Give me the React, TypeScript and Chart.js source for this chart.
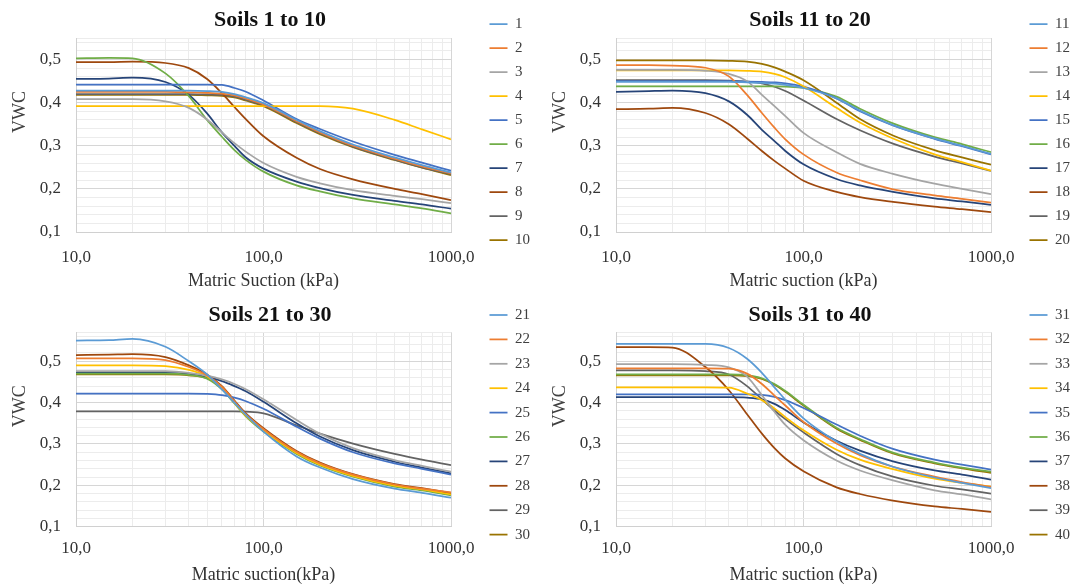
import React, { useEffect, useRef } from "react";
import { Chart, registerables } from "chart.js";

Chart.register(...registerables);

const SERIF = "'Liberation Serif', 'Times New Roman', serif";

// Matric suction (kPa) sample points shared by every curve
const suction = [10, 15, 20, 30, 40, 50, 60, 70, 80, 100, 150, 200, 300, 500, 700, 1000];

// Axis tick labels
const xLabelValues = [10, 100, 1000];
const xLabelTexts = ["10,0", "100,0", "1000,0"];
const yLabelValues = [0.1, 0.2, 0.3, 0.4, 0.5];
const yLabelTexts = ["0,1", "0,2", "0,3", "0,4", "0,5"];

// Excel-like series colours
const palette = ["#5B9BD5", "#ED7D31", "#A5A5A5", "#FFC000", "#4472C4", "#70AD47", "#264478", "#9E480E", "#636363", "#997300"];

// ---- Soils 1 to 10 (VWC) ----
const soil01 = [0.428, 0.428, 0.428, 0.428, 0.428, 0.427, 0.425, 0.42, 0.413, 0.399, 0.36, 0.334, 0.303, 0.273, 0.255, 0.238];
const soil02 = [0.425, 0.425, 0.425, 0.425, 0.424, 0.423, 0.421, 0.417, 0.41, 0.396, 0.357, 0.331, 0.3, 0.27, 0.252, 0.236];
const soil03 = [0.408, 0.408, 0.408, 0.403, 0.388, 0.361, 0.331, 0.306, 0.287, 0.26, 0.228, 0.213, 0.197, 0.184, 0.176, 0.167];
const soil04 = [0.392, 0.392, 0.392, 0.392, 0.392, 0.392, 0.392, 0.392, 0.392, 0.392, 0.392, 0.392, 0.386, 0.36, 0.338, 0.315];
const soil05 = [0.442, 0.442, 0.442, 0.442, 0.442, 0.442, 0.441, 0.434, 0.426, 0.405, 0.362, 0.339, 0.31, 0.279, 0.261, 0.242];
const soil06 = [0.503, 0.504, 0.503, 0.468, 0.415, 0.36, 0.321, 0.29, 0.268, 0.24, 0.208, 0.194, 0.178, 0.164, 0.155, 0.143];
const soil07 = [0.455, 0.456, 0.458, 0.448, 0.418, 0.375, 0.331, 0.3, 0.274, 0.247, 0.217, 0.202, 0.186, 0.172, 0.164, 0.154];
const soil08 = [0.494, 0.494, 0.495, 0.492, 0.48, 0.455, 0.422, 0.39, 0.363, 0.322, 0.272, 0.246, 0.222, 0.2, 0.188, 0.174];
const soil09 = [0.42, 0.42, 0.42, 0.42, 0.42, 0.419, 0.418, 0.414, 0.407, 0.394, 0.355, 0.329, 0.298, 0.268, 0.25, 0.234];
const soil10 = [0.418, 0.418, 0.418, 0.418, 0.418, 0.417, 0.416, 0.412, 0.405, 0.392, 0.353, 0.327, 0.297, 0.267, 0.249, 0.232];

// ---- Soils 11 to 20 ----
const soil11 = [0.448, 0.448, 0.448, 0.448, 0.448, 0.447, 0.446, 0.444, 0.441, 0.434, 0.41, 0.382, 0.348, 0.317, 0.3, 0.281];
const soil12 = [0.487, 0.487, 0.486, 0.481, 0.461, 0.418, 0.376, 0.342, 0.315, 0.28, 0.238, 0.22, 0.199, 0.185, 0.177, 0.168];
const soil13 = [0.476, 0.476, 0.476, 0.474, 0.467, 0.45, 0.418, 0.392, 0.369, 0.33, 0.285, 0.258, 0.235, 0.212, 0.2, 0.188];
const soil14 = [0.475, 0.475, 0.475, 0.475, 0.475, 0.474, 0.472, 0.467, 0.459, 0.438, 0.388, 0.354, 0.317, 0.28, 0.262, 0.242];
const soil15 = [0.45, 0.45, 0.45, 0.45, 0.45, 0.449, 0.448, 0.447, 0.445, 0.437, 0.41, 0.38, 0.347, 0.316, 0.299, 0.28];
const soil16 = [0.438, 0.438, 0.438, 0.438, 0.438, 0.438, 0.438, 0.438, 0.437, 0.434, 0.414, 0.386, 0.352, 0.32, 0.304, 0.285];
const soil17 = [0.425, 0.427, 0.428, 0.422, 0.403, 0.372, 0.337, 0.311, 0.288, 0.257, 0.223, 0.208, 0.193, 0.178, 0.171, 0.163];
const soil18 = [0.385, 0.386, 0.388, 0.376, 0.35, 0.317, 0.288, 0.265, 0.247, 0.219, 0.193, 0.181, 0.17, 0.159, 0.153, 0.146];
const soil19 = [0.452, 0.452, 0.452, 0.452, 0.451, 0.449, 0.445, 0.437, 0.427, 0.405, 0.362, 0.336, 0.305, 0.275, 0.259, 0.242];
const soil20 = [0.498, 0.498, 0.498, 0.498, 0.497, 0.495, 0.49, 0.482, 0.472, 0.452, 0.4, 0.362, 0.324, 0.29, 0.273, 0.256];

// ---- Soils 21 to 30 ----
const soil21 = [0.55, 0.551, 0.554, 0.535, 0.5, 0.468, 0.432, 0.4, 0.372, 0.33, 0.27, 0.243, 0.215, 0.192, 0.182, 0.17];
const soil22 = [0.507, 0.507, 0.507, 0.503, 0.486, 0.466, 0.438, 0.403, 0.373, 0.336, 0.281, 0.253, 0.226, 0.202, 0.192, 0.183];
const soil23 = [0.476, 0.476, 0.476, 0.476, 0.472, 0.465, 0.456, 0.445, 0.433, 0.408, 0.358, 0.325, 0.29, 0.261, 0.247, 0.233];
const soil24 = [0.49, 0.49, 0.49, 0.488, 0.479, 0.463, 0.436, 0.4, 0.37, 0.333, 0.278, 0.25, 0.223, 0.199, 0.19, 0.178];
const soil25 = [0.422, 0.422, 0.422, 0.422, 0.422, 0.421, 0.418, 0.412, 0.404, 0.385, 0.342, 0.313, 0.28, 0.253, 0.24, 0.226];
const soil26 = [0.47, 0.47, 0.47, 0.47, 0.467, 0.458, 0.432, 0.398, 0.368, 0.33, 0.276, 0.248, 0.221, 0.197, 0.188, 0.176];
const soil27 = [0.472, 0.472, 0.472, 0.472, 0.469, 0.462, 0.452, 0.44, 0.428, 0.402, 0.35, 0.318, 0.285, 0.257, 0.243, 0.229];
const soil28 = [0.515, 0.516, 0.517, 0.51, 0.49, 0.468, 0.44, 0.405, 0.375, 0.338, 0.283, 0.255, 0.227, 0.203, 0.193, 0.182];
const soil29 = [0.379, 0.379, 0.379, 0.379, 0.379, 0.379, 0.379, 0.379, 0.378, 0.374, 0.345, 0.325, 0.301, 0.276, 0.262, 0.249];
const soil30 = [0.468, 0.468, 0.468, 0.468, 0.466, 0.459, 0.435, 0.401, 0.371, 0.334, 0.28, 0.252, 0.225, 0.201, 0.191, 0.18];

// ---- Soils 31 to 40 ----
const soil31 = [0.542, 0.542, 0.542, 0.542, 0.532, 0.506, 0.472, 0.437, 0.407, 0.362, 0.306, 0.276, 0.245, 0.219, 0.206, 0.193];
const soil32 = [0.483, 0.483, 0.483, 0.483, 0.482, 0.47, 0.445, 0.417, 0.393, 0.353, 0.301, 0.273, 0.245, 0.221, 0.208, 0.196];
const soil33 = [0.493, 0.493, 0.493, 0.491, 0.485, 0.463, 0.418, 0.378, 0.346, 0.309, 0.26, 0.236, 0.212, 0.188, 0.178, 0.166];
const soil34 = [0.437, 0.437, 0.437, 0.437, 0.436, 0.422, 0.406, 0.386, 0.365, 0.333, 0.286, 0.262, 0.239, 0.216, 0.206, 0.197];
const soil35 = [0.42, 0.42, 0.42, 0.42, 0.42, 0.42, 0.419, 0.414, 0.406, 0.387, 0.347, 0.32, 0.288, 0.262, 0.25, 0.238];
const soil36 = [0.468, 0.468, 0.468, 0.468, 0.468, 0.466, 0.459, 0.445, 0.428, 0.395, 0.339, 0.312, 0.279, 0.255, 0.243, 0.233];
const soil37 = [0.413, 0.413, 0.413, 0.413, 0.413, 0.412, 0.408, 0.397, 0.382, 0.352, 0.308, 0.284, 0.258, 0.236, 0.226, 0.214];
const soil38 = [0.534, 0.534, 0.533, 0.486, 0.43, 0.372, 0.325, 0.29, 0.265, 0.234, 0.195, 0.179, 0.163, 0.149, 0.143, 0.136];
const soil39 = [0.478, 0.478, 0.478, 0.476, 0.468, 0.44, 0.408, 0.381, 0.36, 0.328, 0.276, 0.249, 0.221, 0.199, 0.19, 0.18];
const soil40 = [0.466, 0.466, 0.466, 0.466, 0.466, 0.464, 0.457, 0.443, 0.426, 0.393, 0.337, 0.31, 0.277, 0.253, 0.241, 0.23];

const names1 = ["1", "2", "3", "4", "5", "6", "7", "8", "9", "10"];
const names2 = ["11", "12", "13", "14", "15", "16", "17", "18", "19", "20"];
const names3 = ["21", "22", "23", "24", "25", "26", "27", "28", "29", "30"];
const names4 = ["31", "32", "33", "34", "35", "36", "37", "38", "39", "40"];

const series1 = [soil01, soil02, soil03, soil04, soil05, soil06, soil07, soil08, soil09, soil10];
const series2 = [soil11, soil12, soil13, soil14, soil15, soil16, soil17, soil18, soil19, soil20];
const series3 = [soil21, soil22, soil23, soil24, soil25, soil26, soil27, soil28, soil29, soil30];
const series4 = [soil31, soil32, soil33, soil34, soil35, soil36, soil37, soil38, soil39, soil40];

const CANVAS_W = 540;
const PLOT_LEFT = 76;
const PLOT_RIGHT = 451;

type PanelCfg = {
  title: string;
  xTitle: string;
  names: string[];
  series: number[][];
  yMax: number;
  left: number;
  top: number;
  height: number;
  padTop: number;
  legendGap: number;
  titlePadTop: number;
  titlePadBottom: number;
  xAxisHeight: number;
  xTickPad: number;
  xTitlePadBottom: number;
};

const topRow = { yMax: 0.55, top: 0, height: 294, padTop: 7.5, legendGap: 9, titlePadTop: 0, titlePadBottom: 4.1, xAxisHeight: 62, xTickPad: 15, xTitlePadBottom: 2.2 };
const bottomRow = { yMax: 0.57, top: 290, height: 297, padTop: 8.1, legendGap: 9.4, titlePadTop: 3.7, titlePadBottom: 4.1, xAxisHeight: 60.3, xTickPad: 12, xTitlePadBottom: 1.2 };

const panels: PanelCfg[] = [
  { ...topRow, left: 0, title: "Soils 1 to 10", xTitle: "Matric Suction (kPa)", names: names1, series: series1 },
  { ...topRow, left: 540, title: "Soils 11 to 20", xTitle: "Matric suction (kPa)", names: names2, series: series2 },
  { ...bottomRow, left: 0, title: "Soils 21 to 30", xTitle: "Matric suction(kPa)", names: names3, series: series3 },
  { ...bottomRow, left: 540, title: "Soils 31 to 40", xTitle: "Matric suction (kPa)", names: names4, series: series4 },
];

const near = (a: number, b: number) => Math.abs(a - b) < 1e-6;

function yGridValues(max: number) {
  const out: number[] = [];
  for (let i = 0; ; i++) {
    const v = +(0.1 + i * 0.02).toFixed(2);
    if (v > max + 1e-9) break;
    out.push(v);
  }
  if (out[out.length - 1] < max - 1e-9) out.push(max);
  return out;
}

const vwcPlugin = {
  id: "vwcLabel",
  afterDraw(chart: any, _args: any, opts: any) {
    const { ctx, chartArea } = chart;
    ctx.save();
    ctx.translate(opts.x, chartArea.top + opts.dy);
    ctx.rotate(-Math.PI / 2);
    ctx.font = `18px ${SERIF}`;
    ctx.fillStyle = "#404040";
    ctx.textAlign = "center";
    ctx.textBaseline = "middle";
    ctx.fillText(opts.text, 0, 0);
    ctx.restore();
  },
};

function Panel({ cfg }: { cfg: PanelCfg }) {
  const ref = useRef<HTMLCanvasElement>(null);
  useEffect(() => {
    if (!ref.current) return;
    const chart = new Chart(ref.current, {
      type: "line",
      data: {
        datasets: cfg.series.map((vals, i) => ({
          label: cfg.names[i],
          data: suction.map((x, j) => ({ x, y: vals[j] })),
          borderColor: palette[i],
          backgroundColor: palette[i],
          borderWidth: 1.75,
          pointRadius: 0,
          pointHoverRadius: 0,
          cubicInterpolationMode: "monotone",
          fill: false,
        })),
      },
      options: {
        animation: false,
        responsive: false,
        maintainAspectRatio: false,
        events: [],
        layout: { padding: { top: cfg.padTop, left: 0, right: 0, bottom: 0 } },
        plugins: {
          legend: {
            position: "right",
            align: "start",
            fullSize: true,
            labels: {
              usePointStyle: true,
              pointStyle: "line",
              pointStyleWidth: 18,
              padding: cfg.legendGap,
              color: "#404040",
              font: { family: SERIF, size: 15 },
            },
          },
          title: {
            display: true,
            text: cfg.title,
            fullSize: true,
            color: "#111",
            font: { family: SERIF, size: 22, weight: "bold" },
            padding: { top: cfg.titlePadTop, bottom: cfg.titlePadBottom },
          },
          tooltip: { enabled: false },
          vwcLabel: { x: 20, dy: 74, text: "VWC" },
        } as any,
        scales: {
          x: {
            type: "logarithmic",
            min: 10,
            max: 1000,
            afterFit: (s: any) => {
              s.height = cfg.xAxisHeight;
            },
            grid: {
              drawTicks: false,
              color: (c: any) => {
                const v = c.tick ? c.tick.value : 0;
                return xLabelValues.some((m) => near(m, v)) ? "#d6d6d6" : "#ececec";
              },
            },
            border: { color: "#d0d0d0" },
            ticks: {
              autoSkip: false,
              maxRotation: 0,
              minRotation: 0,
              padding: cfg.xTickPad,
              color: "#333",
              font: { family: SERIF, size: 17 },
              callback: (v: any) => {
                const k = xLabelValues.findIndex((m) => near(m, Number(v)));
                return k >= 0 ? xLabelTexts[k] : "";
              },
            },
            title: {
              display: true,
              text: cfg.xTitle,
              color: "#333",
              font: { family: SERIF, size: 18 },
              padding: { top: 0, bottom: cfg.xTitlePadBottom },
            },
          },
          y: {
            type: "linear",
            min: 0.1,
            max: cfg.yMax,
            afterFit: (s: any) => {
              s.width = PLOT_LEFT;
            },
            afterBuildTicks: (s: any) => {
              s.ticks = yGridValues(cfg.yMax).map((value) => ({ value }));
            },
            grid: {
              drawTicks: false,
              color: (c: any) => {
                const v = c.tick ? c.tick.value : 0;
                return yLabelValues.some((m) => near(m, v)) ? "#d6d6d6" : "#ececec";
              },
            },
            border: { color: "#d0d0d0" },
            ticks: {
              autoSkip: false,
              padding: 15,
              color: "#333",
              font: { family: SERIF, size: 17 },
              callback: (v: any) => {
                const k = yLabelValues.findIndex((m) => near(m, Number(v)));
                return k >= 0 ? yLabelTexts[k] : "";
              },
            },
          },
          gap: {
            type: "linear",
            position: "right",
            display: true,
            grid: { display: false },
            border: { display: false },
            ticks: { display: false },
            afterFit: (s: any) => {
              const lw = s.chart.legend ? s.chart.legend.width : 60;
              s.width = Math.max(0, CANVAS_W - PLOT_RIGHT - lw);
            },
          },
        } as any,
      },
      plugins: [vwcPlugin],
    } as any);
    return () => chart.destroy();
  }, [cfg]);
  return (
    <canvas
      ref={ref}
      width={CANVAS_W}
      height={cfg.height}
      style={{ position: "absolute", left: cfg.left, top: cfg.top, width: CANVAS_W, height: cfg.height, display: "block" }}
    />
  );
}

export default function App() {
  return (
    <div style={{ position: "fixed", left: 0, top: 0, width: 1080, height: 587, background: "#ffffff", overflow: "hidden" }}>
      {panels.map((p) => (
        <Panel key={p.title} cfg={p} />
      ))}
    </div>
  );
}
